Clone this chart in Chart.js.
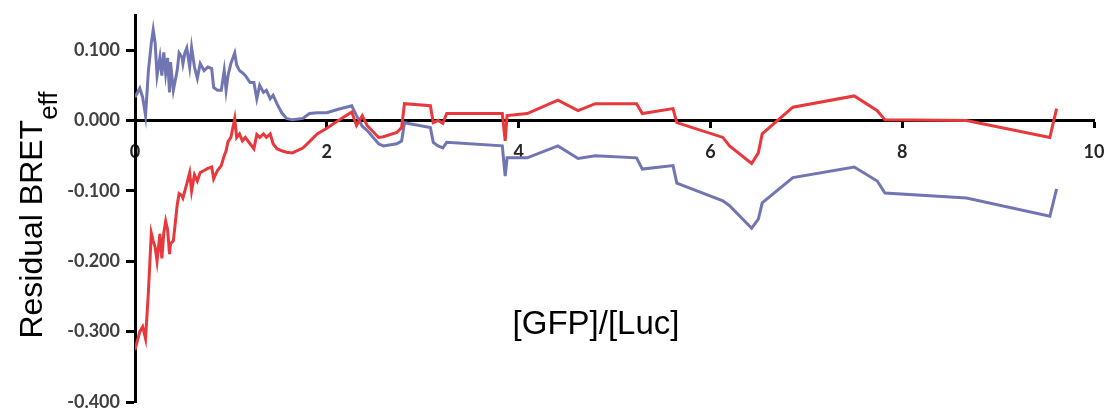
<!DOCTYPE html>
<html>
<head>
<meta charset="utf-8">
<script src="https://cdn.jsdelivr.net/npm/chart.js@4.4.1/dist/chart.umd.min.js"></script>
<style>
    html, body { margin: 0; padding: 0; background: #fff; }
    #wrap { width: 1107px; height: 408px; position: relative; }
</style>
</head>
<body>
<div id="wrap"><canvas id="residualChart"></canvas></div>
<script>
    // [GFP]/[Luc] ratio, shared by both residual curves
    var gfpLuc = [0.00, 0.05, 0.08, 0.11, 0.14, 0.17, 0.19, 0.21, 0.23, 0.26,
        0.28, 0.30, 0.32, 0.34, 0.36, 0.37, 0.40, 0.44, 0.46, 0.49,
        0.50, 0.52, 0.54, 0.57, 0.59, 0.62, 0.65, 0.68, 0.72, 0.76,
        0.80, 0.82, 0.86, 0.90, 0.93, 0.95, 0.97, 1.00, 1.04, 1.06,
        1.09, 1.12, 1.15, 1.20, 1.24, 1.27, 1.30, 1.34, 1.37, 1.41,
        1.44, 1.48, 1.53, 1.58, 1.64, 1.75, 1.82, 1.90, 2.00, 2.12,
        2.26, 2.31, 2.37, 2.42, 2.54, 2.59, 2.73, 2.78, 2.81, 3.08,
        3.11, 3.16, 3.21, 3.25, 3.83, 3.86, 3.88, 4.09, 4.41, 4.62,
        4.80, 5.23, 5.29, 5.61, 5.65, 6.13, 6.20, 6.43, 6.50, 6.54,
        6.86, 7.50, 7.74, 7.82, 8.67, 9.54, 9.61];

    var residualBlue = [0.033, 0.046, 0.033, 0.007, 0.071, 0.110, 0.129, 0.110, 0.064, 0.090,
        0.064, 0.097, 0.067, 0.089, 0.040, 0.083, 0.043, 0.071, 0.096, 0.090,
        0.081, 0.096, 0.103, 0.076, 0.104, 0.076, 0.060, 0.081, 0.071, 0.076,
        0.074, 0.047, 0.043, 0.043, 0.071, 0.043, 0.064, 0.081, 0.096, 0.079,
        0.071, 0.068, 0.064, 0.054, 0.054, 0.031, 0.050, 0.040, 0.043, 0.031,
        0.036, 0.024, 0.011, 0.003, 0.001, 0.003, 0.010, 0.011, 0.011, 0.016,
        0.021, 0.007, -0.008, -0.014, -0.033, -0.036, -0.033, -0.029, -0.003, -0.010,
        -0.031, -0.036, -0.039, -0.031, -0.036, -0.079, -0.053, -0.053, -0.036, -0.054,
        -0.050, -0.053, -0.069, -0.064, -0.089, -0.114, -0.121, -0.153, -0.140, -0.117,
        -0.081, -0.066, -0.086, -0.103, -0.110, -0.136, -0.097];

    var residualRed = [-0.326, -0.300, -0.293, -0.310, -0.243, -0.160, -0.171, -0.180, -0.200, -0.161,
        -0.196, -0.160, -0.143, -0.155, -0.190, -0.175, -0.171, -0.120, -0.104, -0.107,
        -0.110, -0.100, -0.090, -0.074, -0.100, -0.077, -0.086, -0.074, -0.071, -0.068,
        -0.066, -0.083, -0.071, -0.064, -0.050, -0.043, -0.030, -0.024, 0.003, -0.024,
        -0.019, -0.029, -0.024, -0.033, -0.040, -0.020, -0.024, -0.019, -0.024, -0.019,
        -0.033, -0.040, -0.043, -0.045, -0.046, -0.039, -0.030, -0.019, -0.011, 0.000,
        0.012, -0.007, 0.007, -0.007, -0.024, -0.023, -0.017, -0.010, 0.024, 0.021,
        -0.003, 0.000, -0.004, 0.010, 0.010, -0.029, 0.007, 0.010, 0.029, 0.014,
        0.024, 0.024, 0.010, 0.017, -0.003, -0.024, -0.036, -0.061, -0.046, -0.019,
        0.019, 0.035, 0.014, 0.001, 0.000, -0.024, 0.017];

    var xTicks = [0, 2, 4, 6, 8, 10];
    var yTicks = [-0.4, -0.3, -0.2, -0.1, 0, 0.1];

    function toPoints(vals) {
        return vals.map(function (v, i) { return { x: gfpLuc[i], y: v }; });
    }

    // axis titles: the y one needs a subscript, the x one sits inside the plot
    var axisTitles = {
        id: 'axisTitles',
        afterDraw: function (chart) {
            var ctx = chart.ctx;
            var mainFont = '32px "Liberation Sans", Arial, sans-serif';
            var subFont = '26px "Liberation Sans", Arial, sans-serif';
            ctx.save();
            ctx.fillStyle = '#000';
            ctx.font = mainFont;
            var main = 'Residual BRET';
            var mainW = ctx.measureText(main).width;
            ctx.font = subFont;
            var subW = ctx.measureText('eff').width;
            ctx.translate(42, 215);
            ctx.rotate(-Math.PI / 2);
            ctx.textBaseline = 'alphabetic';
            ctx.textAlign = 'left';
            var start = -(mainW + subW) / 2;
            ctx.font = mainFont;
            ctx.fillText(main, start, 0);
            ctx.font = subFont;
            ctx.fillText('eff', start + mainW, 15);
            ctx.restore();

            ctx.save();
            ctx.fillStyle = '#000';
            ctx.font = '33px "Liberation Sans", Arial, sans-serif';
            ctx.textAlign = 'center';
            ctx.textBaseline = 'middle';
            ctx.fillText('[GFP]/[Luc]', 596, 325);
            ctx.restore();
        }
    };

    var tickFont = { family: 'Lato, "Open Sans", sans-serif', size: 18, weight: 'bold' };

    var ctx = document.getElementById('residualChart').getContext('2d');
    var chart = new Chart(ctx, {
        type: 'line',
        data: {
            datasets: [
                {
                    label: 'red',
                    data: toPoints(residualRed),
                    borderColor: '#e8383b',
                    borderWidth: 3,
                    pointRadius: 0,
                    tension: 0
                },
                {
                    label: 'blue',
                    data: toPoints(residualBlue),
                    borderColor: '#7175b2',
                    borderWidth: 3,
                    pointRadius: 0,
                    tension: 0
                }
            ]
        },
        options: {
            responsive: true,
            maintainAspectRatio: false,
            animation: false,
            layout: { padding: { left: 0, top: 15, right: 13, bottom: 6 } },
            plugins: {
                legend: { display: false },
                tooltip: { enabled: false }
            },
            scales: {
                x: {
                    type: 'linear',
                    position: { y: 0 },
                    min: 0,
                    max: 10,
                    z: 1,
                    afterFit: function (scale) {
                        // let the end labels hang over the edge like the original
                        scale.paddingLeft = 0;
                        scale.paddingRight = 0;
                    },
                    afterBuildTicks: function (scale) {
                        scale.ticks = xTicks.map(function (v) { return { value: v }; });
                    },
                    ticks: {
                        color: '#262626',
                        font: tickFont,
                        padding: 15,
                        maxRotation: 0,
                        autoSkip: false
                    },
                    grid: {
                        drawOnChartArea: false,
                        drawTicks: true,
                        tickLength: 6,
                        tickColor: '#000',
                        tickWidth: 3
                    },
                    border: { color: '#000', width: 3 }
                },
                y: {
                    type: 'linear',
                    min: -0.4,
                    max: 0.15,
                    z: 2,
                    afterFit: function (scale) {
                        scale.width = 135;
                        scale.paddingTop = 0;
                        scale.paddingBottom = 0;
                    },
                    afterBuildTicks: function (scale) {
                        scale.ticks = yTicks.map(function (v) { return { value: v }; });
                    },
                    ticks: {
                        color: '#404040',
                        font: tickFont,
                        padding: 6,
                        autoSkip: false,
                        callback: function (v) { return Number(v).toFixed(3); }
                    },
                    grid: {
                        drawOnChartArea: false,
                        drawTicks: true,
                        tickLength: 9,
                        tickColor: '#000',
                        tickWidth: 3
                    },
                    border: { color: '#000', width: 3 }
                }
            }
        },
        plugins: [axisTitles]
    });
</script>
</body>
</html>
